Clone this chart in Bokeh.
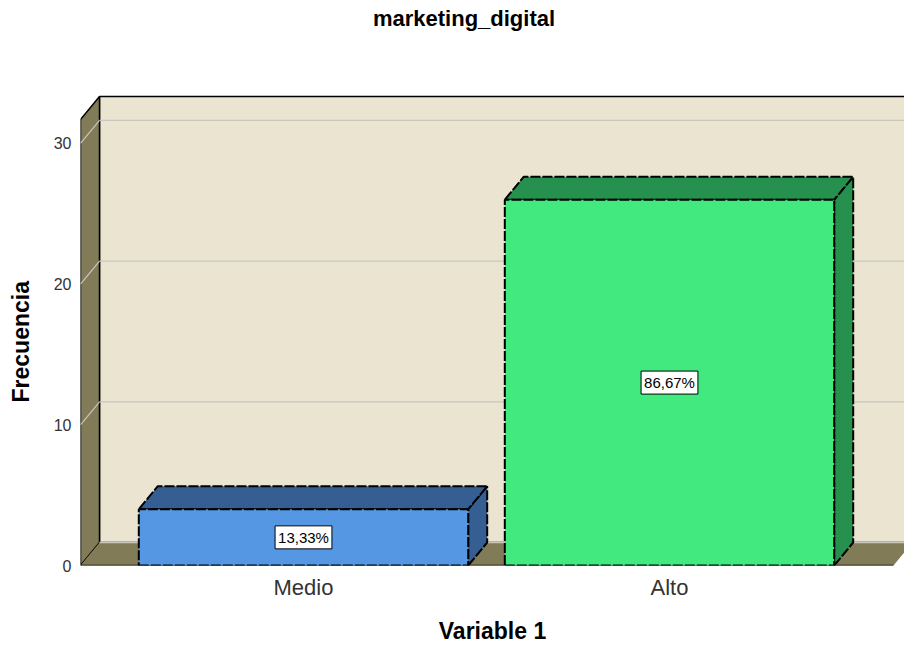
from bokeh.plotting import figure
from bokeh.models import ColumnDataSource, FixedTicker, Range1d, Title
from bokeh.core.properties import value
from bokeh.embed import file_html
from bokeh.resources import INLINE

# ---- data ----
title_text = "marketing_digital"
x_title = "Variable 1"
y_title = "Frecuencia"
categories = ["Medio", "Alto"]
counts = [4, 26]
pct_labels = ["13,33%", "86,67%"]
front_colors = ["#5597e3", "#41e97f"]
dark_colors = ["#355f93", "#26914f"]
y_ticks = [0, 10, 20, 30]

# ---- geometry (data units) ----
W, H = 904, 646
left_px, right_px, top_px, bottom_px = 80, 904, 0, 565
kx = 366.0           # px per category step
ky = 14.07           # px per count unit
c0_px = 303.0        # px of first category centre
x0 = (left_px - c0_px) / kx
x1 = (right_px - c0_px) / kx
y1 = (bottom_px - top_px) / ky
dx = 19.0 / kx
dy = 23.0 / ky
bar_w = 0.9
wall_top = 31.7
floor_right = (893 - c0_px) / kx
xs_pos = list(range(len(categories)))

def px_x(px):
    return (px - c0_px) / kx

def px_y(py):
    return (bottom_px - py) / ky

p = figure(width=W, height=H, output_backend="svg", toolbar_location=None,
           x_range=Range1d(x0, x1), y_range=Range1d(0, y1),
           min_border_left=left_px, min_border_right=0,
           min_border_top=top_px, min_border_bottom=H - bottom_px,
           background_fill_color="white", border_fill_color="white")
p.outline_line_color = None
p.grid.visible = False

# back wall
p.patch([x0 + dx, x1 + 1, x1 + 1, x0 + dx],
        [dy, dy, wall_top + dy, wall_top + dy],
        fill_color="#ebe4d1", line_color="black", line_width=1.5)
# left wall
p.patch([x0, x0 + dx, x0 + dx, x0],
        [0, dy, wall_top + dy, wall_top],
        fill_color="#817c57", line_color="black", line_width=1.5)
# floor
p.patch([x0, floor_right, floor_right + dx, x0 + dx],
        [0, 0, dy, dy],
        fill_color="#817c57", line_color=None)
p.line([x0, floor_right], [0, 0], line_color="black", line_width=1.5)
p.line([x0 + dx, floor_right + dx], [dy, dy], line_color="#c9c6bc", line_width=1.5)

# gridlines
for v in y_ticks[1:]:
    p.line([x0 + dx, x1 + 1], [v + dy, v + dy], line_color="#c8c6bf", line_width=1.2)
    p.line([x0, x0 + dx], [v, v + dy], line_color="#c8c6bf", line_width=1.2)

# bars
for xc, v, fc, dc in zip(xs_pos, counts, front_colors, dark_colors):
    l, r = xc - bar_w / 2, xc + bar_w / 2
    style = dict(line_color="black", line_width=2, line_dash="10 2")
    p.patch([r, r + dx, r + dx, r], [0, dy, v + dy, v], fill_color=dc, **style)
    p.patch([l, r, r + dx, l + dx], [v, v, v + dy, v + dy], fill_color=dc, **style)
    p.patch([l, r, r, l], [0, 0, v, v], fill_color=fc, **style)

# percentage labels
src = ColumnDataSource(dict(x=xs_pos, y=[v / 2 for v in counts], t=pct_labels))
p.text(x="x", y="y", text="t", source=src, text_align="center",
       text_baseline="middle", text_font=value("Liberation Sans"),
       text_font_size="15px", text_color="black",
       background_fill_color="white", border_line_color="black",
       border_line_width=1, padding=3)

# chart title (inside the white top of the frame)
p.text(x=[px_x(463.5)], y=[px_y(18)], text=[title_text],
       text_align="center", text_baseline="middle",
       text_font=value("Liberation Sans"), text_font_style="bold",
       text_font_size="22px", text_color="black")

# y-axis title as a left-side Title
p.add_layout(Title(text=y_title, align="left", offset=163,
                   text_font="Liberation Sans", text_font_style="bold",
                   text_font_size="23px", text_color="black"), "left")

# axes
p.xaxis.ticker = FixedTicker(ticks=xs_pos)
p.xaxis.major_label_overrides = {i: c for i, c in zip(xs_pos, categories)}
p.xaxis.axis_label = x_title
p.yaxis.ticker = FixedTicker(ticks=y_ticks)
for ax in (p.xaxis[0], p.yaxis[0]):
    ax.axis_line_color = None
    ax.major_tick_line_color = None
    ax.minor_tick_line_color = None
    ax.axis_label_text_font = "Liberation Sans"
    ax.axis_label_text_font_style = "bold"
    ax.axis_label_text_font_size = "23px"
    ax.axis_label_text_color = "black"
    ax.major_label_text_font = "Liberation Sans"
p.xaxis.major_label_text_font_size = "22px"
p.xaxis.major_label_text_color = "#333333"
p.xaxis.major_label_standoff = 3
p.xaxis.axis_label_standoff = 15
p.yaxis.major_label_text_font_size = "16px"
p.yaxis.major_label_text_color = "#333333"
p.yaxis.major_label_standoff = 3
# small blank spacer label to push the left Title outward
p.yaxis.axis_label = " "
p.yaxis.axis_label_text_font_size = "2px"
p.yaxis.axis_label_standoff = 7

open("out.html", "w").write(file_html(p, INLINE))
